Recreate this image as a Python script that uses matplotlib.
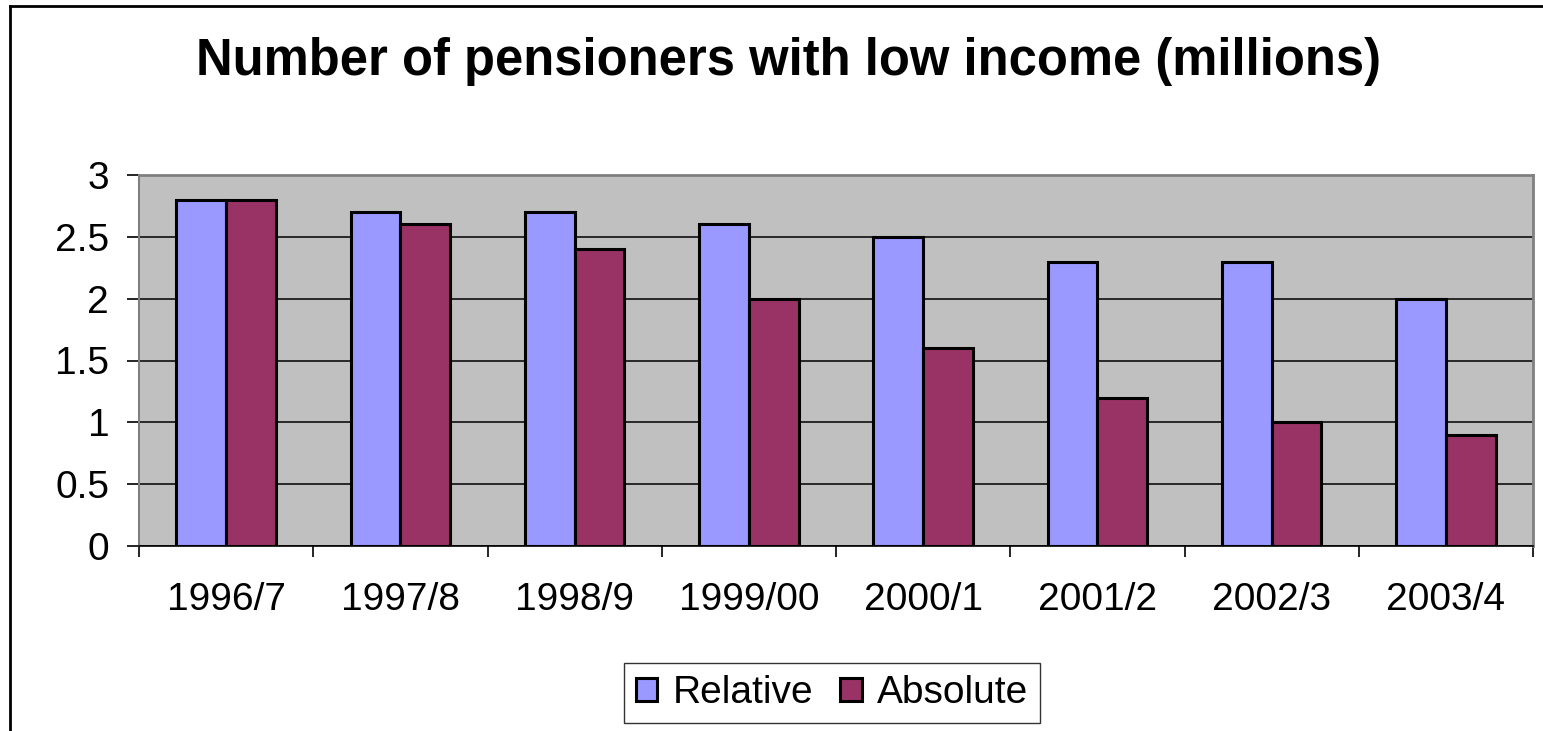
import matplotlib
matplotlib.use("Agg")
import matplotlib.pyplot as plt
import numpy as np
from matplotlib.lines import Line2D

categories = ["1996/7", "1997/8", "1998/9", "1999/00", "2000/1", "2001/2", "2002/3", "2003/4"]
relative = [2.8, 2.7, 2.7, 2.6, 2.5, 2.3, 2.3, 2.0]
absolute = [2.8, 2.6, 2.4, 2.0, 1.6, 1.2, 1.0, 0.9]
yticks = [0, 0.5, 1, 1.5, 2, 2.5, 3]
ytick_labels = ["0", "0.5", "1", "1.5", "2", "2.5", "3"]
title = "Number of pensioners with low income (millions)"

plt.rcParams['font.family'] = ['Liberation Sans', 'DejaVu Sans']

W, H = 1543, 731
fig = plt.figure(figsize=(W / 100, H / 100), dpi=100)
fig.patch.set_facecolor("white")

ax = fig.add_axes([139 / W, 1 - 546 / H, (1533 - 139) / W, (546 - 175) / H])
ax.set_facecolor("#C0C0C0")

x = np.arange(len(categories))
bw = 1 / 3.5
ax.bar(x - bw / 2, relative, bw, color="#9999FF", edgecolor="black", linewidth=2.2, label="Relative", zorder=3)
ax.bar(x + bw / 2, absolute, bw, color="#993366", edgecolor="black", linewidth=2.2, label="Absolute", zorder=3)

ax.set_xlim(-0.5, len(categories) - 0.5)
ax.set_ylim(0, 3)
ax.set_yticks(yticks)
ax.set_yticklabels(ytick_labels)
ax.yaxis.grid(True, color="black", linewidth=1.1, zorder=1)
ax.set_axisbelow(True)

ax.set_xticks(x)
ax.set_xticklabels(categories)
ax.set_xticks(np.arange(len(categories) + 1) - 0.5, minor=True)
ax.tick_params(axis="x", which="major", length=0, pad=26, labelsize=28)
ax.tick_params(axis="x", which="minor", length=8, width=1.2, direction="out", color="black")
ax.tick_params(axis="y", which="major", length=8.5, width=1.2, direction="out", pad=13, labelsize=28)

for s in ["top", "right"]:
    ax.spines[s].set_color("#808080")
    ax.spines[s].set_linewidth(2)
ax.spines["left"].set_color("#808080")
ax.spines["left"].set_linewidth(1.5)
ax.spines["bottom"].set_color("black")
ax.spines["bottom"].set_linewidth(1.2)

fig.text(789 / W, 1 - 62 / H, title, ha="center", va="center", fontsize=36.5, fontweight="bold")

leg = fig.legend(loc="center", bbox_to_anchor=(832 / W, 1 - 693 / H), ncol=2, fontsize=28,
                 frameon=True, fancybox=False, shadow=False, handlelength=0.55, handleheight=0.55,
                 handletextpad=0.4, columnspacing=0.7, borderpad=0.3, borderaxespad=0)
leg.get_frame().set_edgecolor("black")
leg.get_frame().set_linewidth(1.0)

# outer chart frame (top and left only visible)
fig.add_artist(Line2D([10 / W, 1.01], [1 - 6 / H, 1 - 6 / H], transform=fig.transFigure, color="black", linewidth=2))
fig.add_artist(Line2D([10 / W, 10 / W], [-0.01, 1 - 6 / H], transform=fig.transFigure, color="black", linewidth=2))

fig.savefig("out.png", dpi=100)
